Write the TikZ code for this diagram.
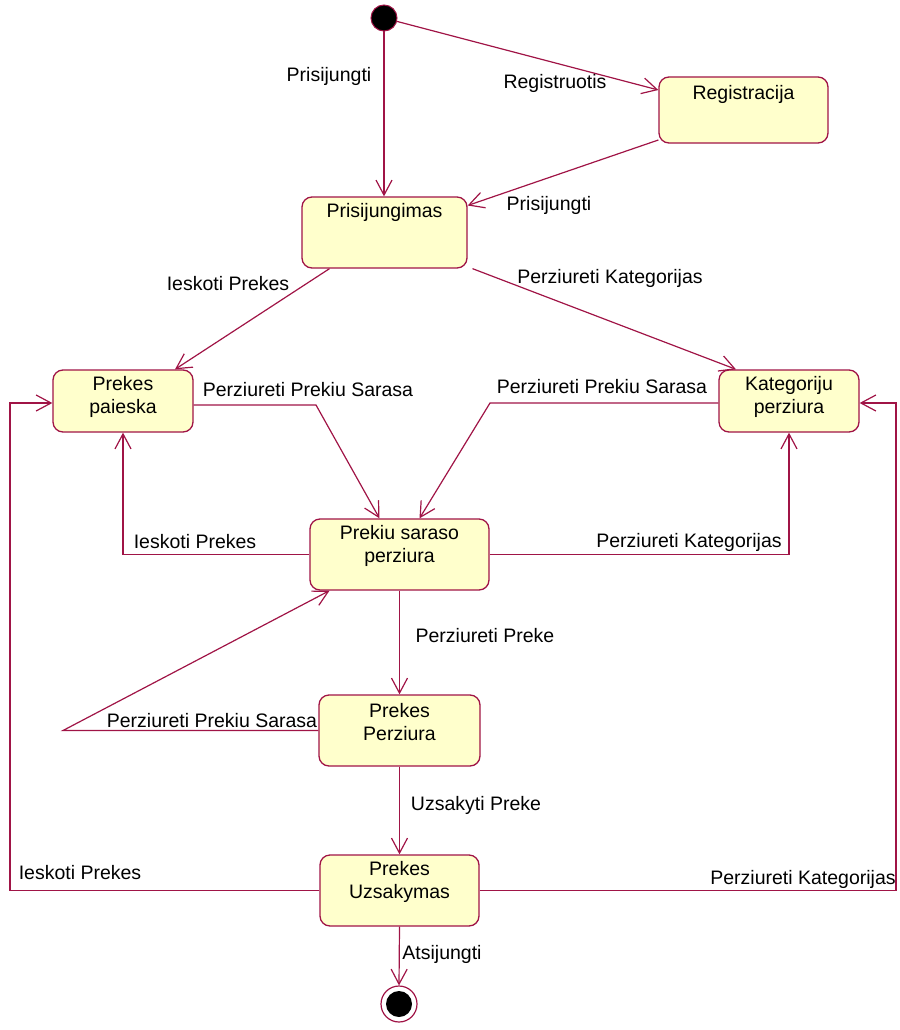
\documentclass[tikz,border=0pt]{standalone}
\usepackage{fontspec}
\setmainfont{Liberation Sans}
\usetikzlibrary{arrows.meta}
\definecolor{umlred}{RGB}{160,20,70}
\definecolor{umlyellow}{RGB}{255,255,204}
\begin{document}
\begin{tikzpicture}[x=1pt,y=-1pt,
  every node/.style={font=\fontsize{19.5pt}{23pt}\selectfont},
  state/.style={draw=umlred,fill=umlyellow,rounded corners=10pt,line width=1.3pt,inner sep=0pt},
  stxt/.style={align=center,inner sep=0pt},
  lbl/.style={inner sep=1pt,text height=14pt,text depth=4pt,yshift=-2pt},
  trans/.style={draw=umlred,line width=1.2pt,-{Straight Barb[length=15pt,width=16pt,line width=1.2pt]}}]
\useasboundingbox (0,0) rectangle (899,1030);

% initial and final states
\node[circle,fill=black,draw=umlred,line width=1pt,minimum size=26pt,inner sep=0pt] (start) at (384,18) {};
\node[circle,fill=white,draw=umlred,line width=1.2pt,minimum size=36pt,inner sep=0pt] (end) at (399,1004) {};
\node[circle,fill=black,minimum size=26pt,inner sep=0pt] (endin) at (399,1004) {};

% states
\node[state,minimum width=169pt,minimum height=66pt] (reg) at (743.5,110) {};
\node[stxt] (regt) at (743.5,94) {Registracija};
\node[state,minimum width=165pt,minimum height=71pt] (prisij) at (384.5,232.5) {};
\node[stxt] (prisijt) at (384.5,212) {Prisijungimas};
\node[state,minimum width=140pt,minimum height=62pt] (paieska) at (123,401) {};
\node[stxt] (paieskat) at (123,397) {Prekes\\paieska};
\node[state,minimum width=140pt,minimum height=62pt] (kateg) at (789,401) {};
\node[stxt] (kategt) at (789,397) {Kategoriju\\perziura};
\node[state,minimum width=179pt,minimum height=71pt] (saraso) at (399.5,554.5) {};
\node[stxt] (sarasot) at (399.5,546) {Prekiu saraso\\perziura};
\node[state,minimum width=161pt,minimum height=71pt] (perz) at (399.5,730.5) {};
\node[stxt] (perzt) at (399.5,722) {Prekes\\Perziura};
\node[state,minimum width=159pt,minimum height=71pt] (uzsak) at (399.5,890.5) {};
\node[stxt] (uzsakt) at (399.5,882) {Prekes\\Uzsakymas};

% bend points of the routed transitions
\coordinate (c6) at (316,405);
\coordinate (c7) at (490,403);
\coordinate (c11) at (63,730.5);
\coordinate (c13) at (10,890.5);
\coordinate (c14) at (896,890.5);

% transitions
\draw[trans] (start.south) -- (start.south |- prisij.north);
\draw[trans] (start) -- ([yshift=20pt]reg.west);
\draw[trans] ([yshift=-30pt]reg.west) -- ([yshift=27pt]prisij.east);
\draw[trans] ([xshift=-55pt]prisij.south) -- ([xshift=52pt]paieska.north);
\draw[trans] ([xshift=88pt]prisij.south) -- ([xshift=-53pt]kateg.north);
\draw[trans] ([yshift=-4pt]paieska.east) -- (c6) -- ([xshift=-20pt]saraso.north);
\draw[trans] ([yshift=-2pt]kateg.west) -- (c7) -- ([xshift=20pt]saraso.north);
\draw[trans] (saraso.west) -| (paieska.south);
\draw[trans] (saraso.east) -| (kateg.south);
\draw[trans] (saraso.south) -- (perz.north);
\draw[trans] (perz.west) -- (c11) -- ([xshift=-70pt]saraso.south);
\draw[trans] (perz.south) -- (uzsak.north);
\draw[trans] (uzsak.west) -- (c13) |- ([yshift=-2pt]paieska.west);
\draw[trans] (uzsak.east) -- (c14) |- ([yshift=-2pt]kateg.east);
\draw[trans] (uzsak.south) -- (end.north);

% transition labels
\node[lbl] (l1) at (329,75) {Prisijungti};
\node[lbl] (l2) at (555,82) {Registruotis};
\node[lbl] (l3) at (549,203) {Prisijungti};
\node[lbl] (l4) at (228,283) {Ieskoti Prekes};
\node[lbl] (l5) at (610,276) {Perziureti Kategorijas};
\node[lbl] (l6) at (308,389) {Perziureti Prekiu Sarasa};
\node[lbl] (l7) at (602,386) {Perziureti Prekiu Sarasa};
\node[lbl] (l8) at (195,541) {Ieskoti Prekes};
\node[lbl] (l9) at (689,540) {Perziureti Kategorijas};
\node[lbl] (l10) at (485,635) {Perziureti Preke};
\node[lbl] (l11) at (212,720) {Perziureti Prekiu Sarasa};
\node[lbl] (l12) at (476,803) {Uzsakyti Preke};
\node[lbl] (l13) at (80,872) {Ieskoti Prekes};
\node[lbl] (l14) at (803,877) {Perziureti Kategorijas};
\node[lbl] (l15) at (442,952) {Atsijungti};
\end{tikzpicture}
\end{document}
